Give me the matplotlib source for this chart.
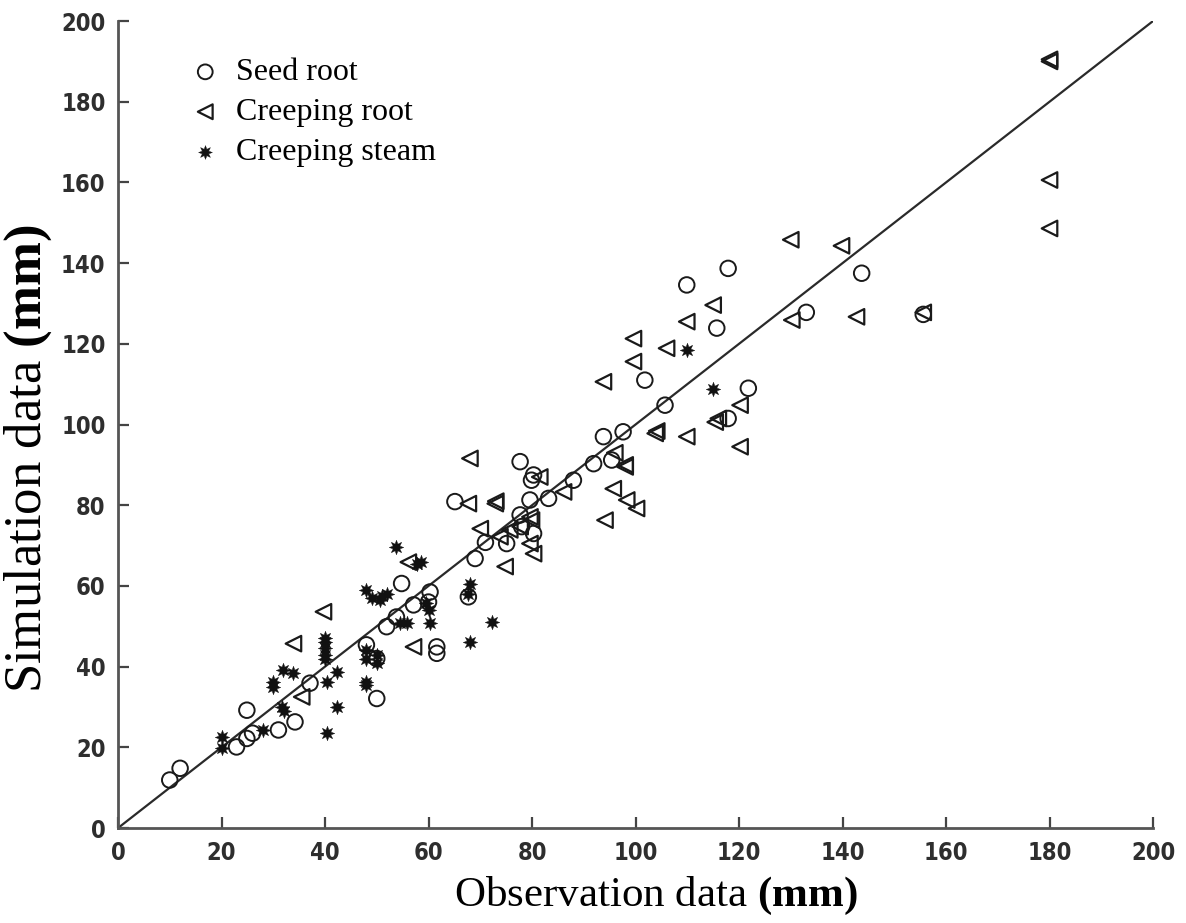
import numpy as np
import matplotlib
matplotlib.use("Agg")
import matplotlib.pyplot as plt
from matplotlib import font_manager

# values (observation, simulation) in mm
seed_obs = [10, 12, 22.9, 24.9, 24.9, 26, 31, 34.2, 37.1, 50, 48, 50, 51.9, 53.8,
            54.8, 57.1, 60.3, 60, 61.6, 61.6, 67.7, 69, 71, 75.1, 78, 80.3, 79.6,
            77.7, 80.3, 65.1, 83.2, 88, 91.9, 93.8, 97.6, 95.4, 101.8, 105.7,
            115.7, 109.9, 117.9, 121.8, 117.9, 133, 143.7, 155.6, 77.7, 79.9]
seed_sim = [11.9, 14.8, 20.1, 29.2, 22.2, 23.5, 24.3, 26.3, 35.9, 32.1, 45.4, 42,
            49.9, 52.3, 60.6, 55.3, 58.5, 56, 44.9, 43.3, 57.3, 66.8, 70.8, 70.5,
            74.7, 73.0, 81.3, 90.8, 87.5, 80.9, 81.7, 86.2, 90.3, 97.0, 98.2, 91.2,
            111.0, 104.8, 123.9, 134.6, 138.7, 109.0, 101.5, 127.8, 137.5, 127.3,
            77.6, 86.2]

root_obs = [33.9, 35.5, 39.7, 56.1, 57.1, 68, 67.7, 72.9, 73, 70, 74.8, 73.8,
            75.7, 77.7, 79.9, 79.6, 80.3, 79.6, 81.5, 86.1, 93.8, 99.6, 99.6, 106,
            103.8, 104.1, 109.9, 109.9, 115, 115.4, 116, 120.2, 120.2, 96, 98, 98,
            95.7, 98.3, 100.2, 94.1, 130, 130.2, 139.8, 142.7, 155.6, 180, 180,
            180, 180]
root_sim = [45.7, 32.5, 53.6, 65.9, 44.9, 91.6, 80.4, 80.4, 81.0, 74.2, 64.8, 72.2,
            73.9, 74.7, 76.3, 70.5, 68.0, 77.1, 87.0, 83.3, 110.6, 121.3, 115.6,
            118.9, 97.8, 98.4, 97.0, 125.5, 129.6, 100.6, 101.5, 104.8, 94.5, 93,
            90, 89.5, 84.1, 81.3, 79.2, 76.3, 145.8, 125.9, 144.3, 126.7, 127.8,
            190.5, 190.0, 160.6, 148.6]

stem_obs = [20, 20, 28.1, 31.6, 32, 30, 30, 31.9, 33.9, 40, 40, 40, 40, 40, 40.3,
            42.3, 42.3, 40.3, 48, 48, 48, 48, 50, 50, 48, 49, 50.6, 51, 52, 53.8,
            54.5, 55.8, 57.7, 58.5, 59.6, 60.3, 60, 68, 72.2, 68, 67.7, 109.9, 115]
stem_sim = [22.6, 19.8, 24.3, 30.1, 29, 35, 36.2, 39.2, 38.3, 47, 46, 44.5, 43, 42,
            36.3, 38.7, 30.1, 23.5, 36.3, 35.5, 44, 42, 41, 43, 59, 57, 56.5, 57.5,
            58, 69.7, 50.8, 50.7, 65.5, 66, 55.7, 50.8, 54, 46.2, 51.1, 60.6, 58.1,
            118.5, 108.7]

ticks = [0, 20, 40, 60, 80, 100, 120, 140, 160, 180, 200]
one_to_one = [0, 200]

names = [f.name for f in font_manager.fontManager.ttflist]
tick_font = "Liberation Sans Narrow" if "Liberation Sans Narrow" in names else "DejaVu Sans"
serif = "Liberation Serif"

plt.rcParams['mathtext.fontset'] = 'custom'
plt.rcParams['mathtext.rm'] = serif
plt.rcParams['mathtext.bf'] = serif + ':bold'

fig = plt.figure(figsize=(11.86, 9.23), dpi=100)
ax = fig.add_axes([0.0995, 0.1029, 0.8727, 0.8743])

ax.plot(one_to_one, one_to_one, color='#2a2a2a', lw=1.6, zorder=1)

ax.scatter(seed_obs, seed_sim, s=125, marker='o', facecolors='none',
           edgecolors='#1a1a1a', linewidths=1.4, label='Seed root', zorder=3)
ax.scatter(root_obs, root_sim, s=125, marker='<', facecolors='none',
           edgecolors='#1a1a1a', linewidths=1.6, label='Creeping root', zorder=3)
ax.scatter(stem_obs, stem_sim, s=110, marker=(8, 1, 0), color='#111111',
           linewidths=0.3, label='Creeping steam', zorder=4)

ax.set_xlim(0, 200)
ax.set_ylim(0, 200)
ax.set_xticks(ticks)
ax.set_yticks(ticks)
ax.tick_params(direction='in', length=8, width=1.6, color='#444444',
               labelsize=17, pad=9)
for lab in ax.get_xticklabels() + ax.get_yticklabels():
    lab.set_fontfamily(tick_font)
    lab.set_fontweight('bold')
    lab.set_fontstretch('condensed')
    lab.set_color('#2e2e2e')

ax.spines['top'].set_visible(False)
ax.spines['right'].set_visible(False)
for side in ['left', 'bottom']:
    ax.spines[side].set_linewidth(2)
    ax.spines[side].set_color('#555555')

ax.set_xlabel(r'Observation data $\mathbf{(mm)}$', family=serif, fontsize=31)
ax.set_ylabel(r'Simulation data $\mathbf{(mm)}$', family=serif, fontsize=38)
ax.xaxis.set_label_coords(0.52, -0.058)
ax.yaxis.set_label_coords(-0.062, 0.457)

ax.legend(loc='upper left', bbox_to_anchor=(0.038, 0.99), frameon=False,
          prop={'family': serif, 'size': 23}, markerscale=0.95,
          handletextpad=0.35, labelspacing=0.33, handlelength=1.2)

plt.savefig('out.png', dpi=100)
